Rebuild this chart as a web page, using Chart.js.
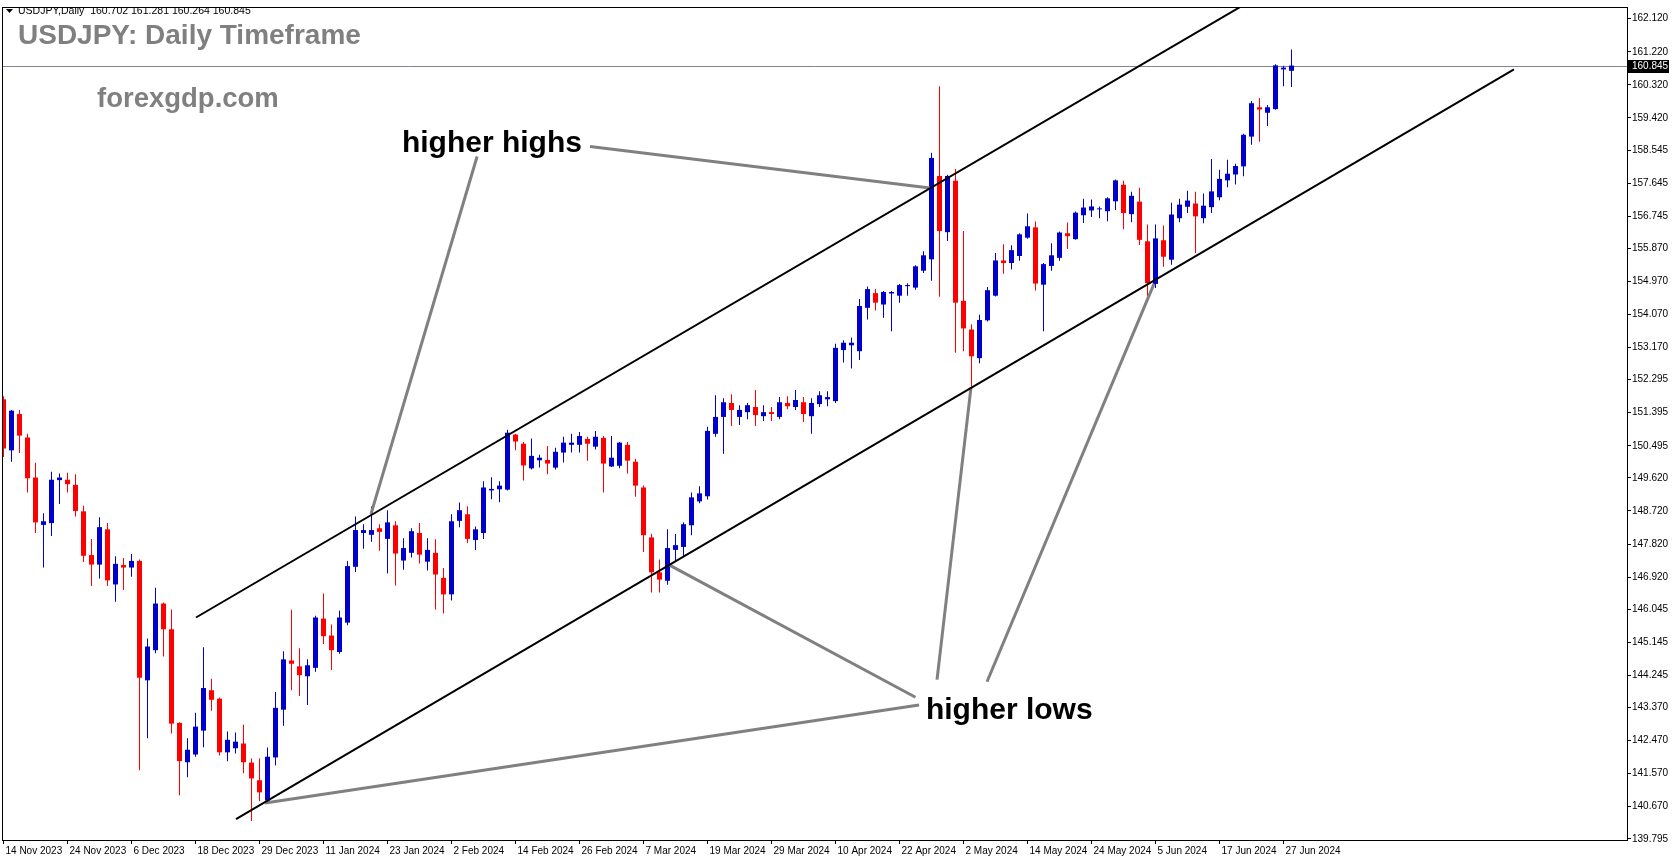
<!DOCTYPE html>
<html>
<head>
<meta charset="utf-8">
<script src="https://cdn.jsdelivr.net/npm/chart.js@4.4.1/dist/chart.umd.min.js"></script>
<style>
html,body{margin:0;padding:0;background:#fff;}
canvas{display:block;}
</style>
</head>
<body>
<canvas id="fxChart" width="1673" height="861"></canvas>
<script>
// USDJPY DAILY CANDLES (14 Nov 2023 .. 28 Jun 2024)

const xTickLabels = ["14 Nov 2023","24 Nov 2023","6 Dec 2023","18 Dec 2023","29 Dec 2023","11 Jan 2024","23 Jan 2024","2 Feb 2024","14 Feb 2024","26 Feb 2024","7 Mar 2024","19 Mar 2024","29 Mar 2024","10 Apr 2024","22 Apr 2024","2 May 2024","14 May 2024","24 May 2024","5 Jun 2024","17 Jun 2024","27 Jun 2024"];
const xTickStep = 8;

const yTicks = [162.120,161.220,160.320,159.420,158.545,157.645,156.745,155.870,154.970,154.070,153.170,152.295,151.395,150.495,149.620,148.720,147.820,146.920,146.045,145.145,144.245,143.370,142.470,141.570,140.670,139.795];

const open = [151.76,150.37,151.36,150.72,149.63,148.34,148.39,149.56,149.57,149.43,
148.71,147.52,147.26,148.22,146.72,147.25,147.18,147.36,144.11,144.93,
146.20,145.50,142.95,141.88,142.09,142.74,143.84,143.61,142.15,142.26,
142.39,141.87,141.39,140.84,142.01,143.31,144.65,144.49,144.22,144.45,
145.79,145.33,144.88,145.68,147.20,148.12,148.07,148.25,147.96,148.33,
147.37,147.58,148.12,147.34,147.58,146.90,146.45,148.45,148.63,147.93,
148.12,149.28,149.31,149.30,150.80,150.55,149.88,150.10,150.11,149.90,
150.31,150.52,150.52,150.68,150.47,150.71,149.93,149.95,150.52,150.06,
149.36,148.00,147.05,146.82,147.66,147.74,148.33,148.98,149.12,150.82,
151.28,151.66,151.28,151.41,151.55,151.30,151.41,151.28,151.66,151.55,
151.68,151.30,151.63,151.76,151.71,153.10,153.23,153.07,154.25,154.65,
154.34,154.64,154.58,154.84,154.80,155.26,155.57,157.84,156.31,157.71,
154.44,153.66,152.88,153.91,154.58,155.54,155.47,155.66,156.16,156.44,
154.88,155.39,155.61,156.28,156.12,156.77,156.90,156.93,156.88,157.15,
157.60,156.80,157.14,156.06,154.90,156.09,155.56,156.69,157.00,157.09,
156.69,156.99,157.26,157.72,157.88,158.10,158.91,159.71,159.56,159.66,
160.74,160.702];

const high = [151.84,151.47,151.47,150.82,150.03,148.66,149.79,149.74,149.76,149.72,
148.86,147.96,148.55,148.39,147.49,147.44,147.55,147.40,145.25,146.63,
146.23,146.04,142.97,142.53,143.23,145.01,144.15,143.64,142.72,142.69,
142.90,141.98,141.98,142.28,143.79,144.90,146.03,144.98,144.68,145.87,
146.47,145.63,146.01,147.36,148.57,148.36,148.84,148.36,148.74,148.44,
147.98,148.25,148.39,147.98,147.95,147.17,148.63,148.95,148.85,148.30,
149.53,149.64,149.53,150.93,150.82,150.60,150.69,150.25,150.49,150.44,
150.74,150.82,150.87,150.74,150.90,150.76,150.76,150.60,150.60,150.14,
149.41,148.10,147.40,148.22,148.09,148.41,149.22,149.39,151.01,151.87,
151.79,151.90,151.60,151.66,152.01,151.60,151.55,151.82,151.84,152.01,
151.82,151.79,151.98,151.98,153.27,153.37,153.44,154.49,154.83,154.76,
154.71,154.71,154.90,154.92,155.41,155.79,158.47,160.28,157.87,158.03,
156.34,153.80,154.06,154.82,155.74,155.98,155.95,156.28,156.82,156.60,
155.47,156.01,156.33,156.57,156.87,157.22,157.20,157.01,157.26,157.74,
157.71,157.41,157.52,156.52,156.52,156.49,157.11,157.22,157.44,157.41,
157.36,158.30,158.01,158.28,158.17,158.99,159.88,159.96,159.77,160.88,
160.84,161.281];

const low = [150.19,150.06,150.30,149.22,148.12,147.18,148.04,148.91,149.22,148.57,
147.33,146.68,146.88,146.68,146.25,146.57,146.93,141.66,142.53,144.85,
144.76,142.66,140.98,141.47,142.03,142.29,143.28,142.06,141.91,142.12,
141.58,140.28,140.82,140.80,141.79,142.87,143.84,143.68,143.44,144.34,
145.10,144.39,144.83,145.61,147.06,147.69,147.88,147.64,147.02,146.69,
147.12,147.45,147.29,147.10,146.04,145.93,146.28,148.28,147.85,147.66,
147.96,149.04,148.96,149.28,150.37,149.55,149.85,149.90,149.72,149.85,
150.04,150.31,150.31,150.09,150.39,149.22,149.92,149.88,149.74,149.11,
147.60,146.50,146.50,146.71,147.33,147.47,148.06,148.93,149.03,150.74,
150.28,151.03,151.06,151.22,151.03,151.17,151.17,151.22,151.49,151.47,
151.14,150.82,151.55,151.57,151.66,152.76,152.60,152.83,153.93,154.18,
153.98,153.61,154.39,154.58,154.74,155.20,154.99,154.55,156.07,153.03,
153.07,152.10,152.74,153.88,154.56,155.18,155.29,155.53,156.13,154.72,
153.61,155.26,155.53,155.85,156.10,156.56,156.72,156.69,156.61,156.91,
156.39,156.58,155.96,154.58,154.79,155.37,155.42,156.58,156.83,155.74,
156.55,156.83,157.18,157.53,157.61,157.83,158.69,158.77,159.20,159.64,
160.28,160.264];

const close = [150.42,151.45,150.77,149.61,148.41,148.44,149.57,149.63,149.45,148.72,
147.50,147.26,148.28,146.83,147.28,147.18,147.36,144.18,145.03,146.20,
145.50,142.93,141.91,142.22,142.85,143.90,143.58,142.15,142.49,142.44,
141.88,141.44,141.06,142.03,143.36,144.68,144.56,144.25,144.52,145.82,
145.31,144.93,145.82,147.22,148.20,148.20,148.20,148.15,148.41,147.56,
147.71,148.17,147.53,147.66,146.99,146.45,148.44,148.74,147.96,148.22,
149.36,149.32,149.41,150.85,150.61,149.96,150.22,150.17,150.01,150.33,
150.58,150.58,150.76,150.55,150.74,150.01,150.17,150.58,150.09,149.41,
148.06,147.05,146.85,147.71,147.79,148.36,149.09,149.20,150.90,151.28,
151.68,151.47,151.47,151.60,151.33,151.41,151.36,151.68,151.57,151.74,
151.36,151.66,151.87,151.82,153.16,153.30,153.30,154.30,154.76,154.39,
154.68,154.68,154.87,154.87,155.38,155.68,158.33,156.34,157.84,154.39,
153.69,152.93,153.92,154.73,155.54,155.47,155.82,156.25,156.47,154.91,
155.44,155.68,156.30,156.20,156.84,156.98,157.01,156.95,157.23,157.72,
156.83,157.30,156.10,154.92,156.14,155.64,156.79,157.06,157.17,156.74,
157.03,157.42,157.76,157.90,158.11,158.96,159.82,159.65,159.71,160.85,
160.79,160.845];

const lastPrice = 160.845;
const headerText = "USDJPY,Daily  160.702 161.281 160.264 160.845";

// channel lines and arrows, as [bar index, price]
const upperChannel = [[24.06, 145.82], [156.0, 162.62]];
const lowerChannel = [[29.06, 140.33], [188.81, 160.74]];
const grayArrows = [
  [[59.2, 158.37], [45.94, 148.64]],
  [[73.31, 158.64], [115.81, 157.51]],
  [[114.44, 143.44], [32.69, 140.77]],
  [[114.0, 143.65], [83.31, 147.24]],
  [[116.69, 144.13], [120.94, 152.09]],
  [[122.94, 144.07], [143.81, 154.90]]
];
const notes = [
  {text: "higher highs", at: [49.8, 158.71]},
  {text: "higher lows", at: [115.3, 143.29]}
];

const BULL = "#0000cd";
const BEAR = "#ff0000";

const candleColors = close.map((c, i) => c >= open[i] ? BULL : BEAR);
const wickData = close.map((c, i) => ({x: i, y: [low[i], high[i]]}));
const bodyData = close.map((c, i) => ({x: i, y: [open[i], c]}));

const overlay = {
  id: "overlay",
  beforeDatasetsDraw(chart) {
    const {ctx, chartArea: a, scales: {y}} = chart;
    const py = Math.round(y.getPixelForValue(lastPrice)) + 0.5;
    ctx.save();
    ctx.strokeStyle = "#80858f";
    ctx.lineWidth = 1;
    ctx.beginPath();
    ctx.moveTo(a.left, py);
    ctx.lineTo(a.right, py);
    ctx.stroke();
    ctx.restore();
  },
  afterDatasetsDraw(chart) {
    const {ctx, chartArea: a, scales: {x, y}} = chart;
    const pt = p => [x.getPixelForValue(p[0]), y.getPixelForValue(p[1])];
    ctx.save();
    ctx.beginPath();
    ctx.rect(a.left, a.top, a.right - a.left, a.bottom - a.top);
    ctx.clip();

    // gray arrows
    ctx.strokeStyle = "#808080";
    ctx.lineWidth = 3;
    grayArrows.forEach(seg => {
      const p0 = pt(seg[0]), p1 = pt(seg[1]);
      ctx.beginPath();
      ctx.moveTo(p0[0], p0[1]);
      ctx.lineTo(p1[0], p1[1]);
      ctx.stroke();
    });

    // channel
    ctx.strokeStyle = "#000000";
    ctx.lineWidth = 2;
    [upperChannel, lowerChannel].forEach(seg => {
      const p0 = pt(seg[0]), p1 = pt(seg[1]);
      ctx.beginPath();
      ctx.moveTo(p0[0], p0[1]);
      ctx.lineTo(p1[0], p1[1]);
      ctx.stroke();
    });

    // labels
    ctx.fillStyle = "#000000";
    ctx.font = "bold 30px 'Liberation Sans', Arial, sans-serif";
    ctx.textBaseline = "middle";
    ctx.textAlign = "left";
    notes.forEach(n => {
      const p = pt(n.at);
      ctx.fillText(n.text, p[0], p[1]);
    });

    // watermark texts
    ctx.fillStyle = "#808080";
    ctx.font = "bold 28px 'Liberation Sans', Arial, sans-serif";
    ctx.fillText("USDJPY: Daily Timeframe", 18, 36);
    ctx.font = "bold 27.5px 'Liberation Sans', Arial, sans-serif";
    ctx.fillText("forexgdp.com", 97, 99);

    // header
    ctx.fillStyle = "#000000";
    ctx.beginPath();
    ctx.moveTo(6, 9);
    ctx.lineTo(13, 9);
    ctx.lineTo(9.5, 13);
    ctx.closePath();
    ctx.fill();
    ctx.font = "10.5px 'Liberation Sans', Arial, sans-serif";
    ctx.fillText(headerText, 18, 11);
    ctx.restore();
  },
  afterDraw(chart) {
    const {ctx, chartArea: a, scales: {y}} = chart;
    ctx.save();
    ctx.strokeStyle = "#000000";
    ctx.lineWidth = 1;
    ctx.strokeRect(a.left + 0.5, a.top + 0.5, a.right - a.left, a.bottom - a.top);

    // last price tag
    const py = Math.round(y.getPixelForValue(lastPrice));
    ctx.fillStyle = "#000000";
    ctx.fillRect(a.right + 1, py - 6, 41, 13);
    ctx.fillStyle = "#ffffff";
    ctx.font = "10px 'Liberation Sans', Arial, sans-serif";
    ctx.textBaseline = "middle";
    ctx.textAlign = "left";
    ctx.fillText(lastPrice.toFixed(3), a.right + 5, py + 0.5);
    ctx.restore();
  }
};

const ctx = document.getElementById("fxChart").getContext("2d");

const fxChart = new Chart(ctx, {
  type: "bar",
  data: {
    datasets: [
      {
        label: "wick",
        data: wickData,
        backgroundColor: candleColors,
        barThickness: 1,
        grouped: false,
        borderWidth: 0,
        inflateAmount: 0,
        order: 2
      },
      {
        label: "body",
        data: bodyData,
        backgroundColor: candleColors,
        barThickness: 5,
        grouped: false,
        borderWidth: 0,
        inflateAmount: 0,
        minBarLength: 1,
        order: 1
      }
    ]
  },
  options: {
    responsive: false,
    animation: false,
    layout: {padding: {left: 2, top: 1, right: 0, bottom: 0}},
    plugins: {
      legend: {display: false},
      tooltip: {enabled: false}
    },
    scales: {
      x: {
        type: "linear",
        offset: false,
        min: -0.1875,
        max: 202.9375,
        afterFit(scale) { scale.height = 21; },
        afterBuildTicks(scale) {
          scale.ticks = xTickLabels.map((t, i) => ({value: i * xTickStep}));
        },
        grid: {display: true, offset: false, drawOnChartArea: false, drawTicks: true, tickLength: 4, color: "#000000"},
        border: {display: true, color: "#000000"},
        ticks: {
          autoSkip: false,
          maxRotation: 0,
          align: "start",
          labelOffset: 2,
          padding: 1,
          color: "#000000",
          font: {family: "'Liberation Sans', Arial, sans-serif", size: 10},
          callback: (v, i) => xTickLabels[i]
        }
      },
      y: {
        position: "right",
        min: 139.763,
        max: 162.439,
        afterFit(scale) { scale.width = 46; },
        afterBuildTicks(scale) {
          scale.ticks = yTicks.map(v => ({value: v}));
        },
        grid: {display: true, drawOnChartArea: false, drawTicks: true, tickLength: 4, color: "#000000"},
        border: {display: true, color: "#000000"},
        ticks: {
          autoSkip: false,
          padding: 1,
          color: "#000000",
          font: {family: "'Liberation Sans', Arial, sans-serif", size: 10},
          callback: v => Number(v).toFixed(3)
        }
      }
    }
  },
  plugins: [overlay]
});
</script>
</body>
</html>
